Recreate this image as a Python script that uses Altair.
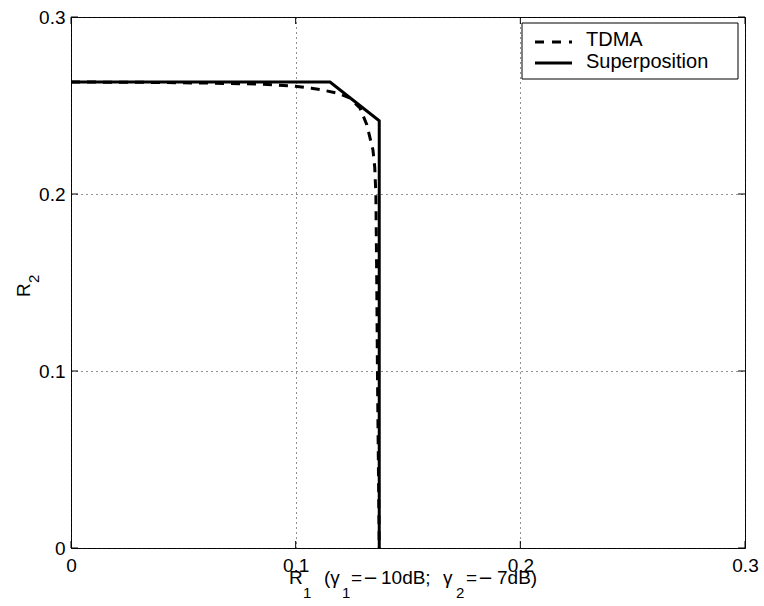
import altair as alt
import pandas as pd

# ---- data ----
sup_r1 = [0.0, 0.1153, 0.1372, 0.1372]
sup_r2 = [0.2633, 0.2633, 0.2414, 0.0]

tdma_r1 = [0.0, 0.030, 0.060, 0.084, 0.0985, 0.107, 0.1125, 0.119, 0.124, 0.1286,
           0.1317, 0.1344, 0.1352, 0.1357, 0.1361, 0.1364, 0.1368, 0.1372]
tdma_r2 = [0.2633, 0.2631, 0.2627, 0.2621, 0.2610, 0.2598, 0.2586, 0.2568, 0.2543, 0.2486,
           0.2390, 0.2249, 0.2150, 0.2000, 0.1500, 0.1000, 0.0500, 0.0]

x_ticks = [0, 0.1, 0.2, 0.3]
y_ticks = [0, 0.1, 0.2, 0.3]
legend_labels = ["TDMA", "Superposition"]

FONT = "Liberation Sans"
W, H = 674, 531
OX, OY = 71, 17

sup = pd.DataFrame({"r1": sup_r1, "r2": sup_r2, "o": list(range(len(sup_r1)))})
tdma = pd.DataFrame({"r1": tdma_r1, "r2": tdma_r2, "o": list(range(len(tdma_r1)))})

xs = alt.Scale(domain=[0, 0.3], nice=False, zero=False)
ys = alt.Scale(domain=[0, 0.3], nice=False, zero=False)

xaxis = alt.Axis(values=x_ticks, format="~g", title=None, grid=True, gridDash=[1, 4],
                 gridColor="#222", gridWidth=1, tickSize=0, labelPadding=8,
                 labelFont=FONT, labelFontSize=19, labelColor="black", domain=False,
                 labelFlush=False, labelOverlap=False)
yaxis = alt.Axis(values=y_ticks, format="~g", title=None, grid=True, gridDash=[1, 4],
                 gridColor="#222", gridWidth=1, tickSize=0, labelPadding=6,
                 labelFont=FONT, labelFontSize=19, labelColor="black", domain=False,
                 labelFlush=False, labelOverlap=False)

sup_line = alt.Chart(sup).mark_line(color="black", strokeWidth=3, clip=True).encode(
    x=alt.X("r1:Q", scale=xs, axis=xaxis),
    y=alt.Y("r2:Q", scale=ys, axis=yaxis),
    order="o:Q",
)
tdma_line = alt.Chart(tdma).mark_line(color="black", strokeWidth=3, strokeDash=[9, 7], clip=True).encode(
    x=alt.X("r1:Q", scale=xs),
    y=alt.Y("r2:Q", scale=ys),
    order="o:Q",
)

# inward tick marks (bottom/top, left/right)
xt = pd.DataFrame({"v": x_ticks})
yt = pd.DataFrame({"v": y_ticks})
TL = 7
xt_bot = alt.Chart(xt).mark_rule(color="black", strokeWidth=1).encode(
    x=alt.X("v:Q", scale=xs), y=alt.value(H), y2=alt.value(H - TL))
xt_top = alt.Chart(xt).mark_rule(color="black", strokeWidth=1).encode(
    x=alt.X("v:Q", scale=xs), y=alt.value(0), y2=alt.value(TL))
yt_left = alt.Chart(yt).mark_rule(color="black", strokeWidth=1).encode(
    y=alt.Y("v:Q", scale=ys), x=alt.value(0), x2=alt.value(TL))
yt_right = alt.Chart(yt).mark_rule(color="black", strokeWidth=1).encode(
    y=alt.Y("v:Q", scale=ys), x=alt.value(W), x2=alt.value(W - TL))

# legend box (plot-local pixel coordinates)
LX0, LX1, LY0, LY1 = 451, 667, 6, 62
one = pd.DataFrame({"a": [0]})
leg_box = alt.Chart(one).mark_rect(
    fill="white", stroke="black", strokeWidth=1).encode(
    x=alt.value(LX0), x2=alt.value(LX1), y=alt.value(LY0), y2=alt.value(LY1))
leg_dash = alt.Chart(one).mark_rule(
    color="black", strokeWidth=3, strokeDash=[9, 8]).encode(
    x=alt.value(464), x2=alt.value(501), y=alt.value(25))
leg_solid = alt.Chart(one).mark_rule(
    color="black", strokeWidth=3).encode(
    x=alt.value(464), x2=alt.value(501), y=alt.value(46))
leg_text = alt.Chart(pd.DataFrame({"t": legend_labels, "px": [515, 515], "py": [29, 51]})).mark_text(
    font=FONT, fontSize=20, align="left", baseline="alphabetic", color="black").encode(
    x=alt.X("px:Q", scale=None), y=alt.Y("py:Q", scale=None), text="t:N")

# x title pieces (absolute pixel positions, converted to plot-local)
x_main = pd.DataFrame({
    "t":  ["R", "(γ", "=", "10dB;", "γ", "=", "7dB)"],
    "px": [289, 324, 351, 381, 443, 466, 497],
    "py": [584] * 7,
})
x_minus = pd.DataFrame({"t": ["−", "−"], "px": [363, 478], "py": [584, 584]})
x_sub = pd.DataFrame({
    "t":  ["1", "1", "2"],
    "px": [303, 342, 456],
    "py": [598, 598, 598],
})
for d in (x_main, x_sub, x_minus):
    d["px"] = d["px"] - OX
    d["py"] = d["py"] - OY

x_title_main = alt.Chart(x_main).mark_text(
    font=FONT, fontSize=19, align="left", baseline="alphabetic", color="black").encode(
    x=alt.X("px:Q", scale=None), y=alt.Y("py:Q", scale=None), text="t:N")
x_title_minus = alt.Chart(x_minus).mark_text(
    font="DejaVu Sans", fontSize=18, align="left", baseline="alphabetic", color="black").encode(
    x=alt.X("px:Q", scale=None), y=alt.Y("py:Q", scale=None), text="t:N")
x_title_sub = alt.Chart(x_sub).mark_text(
    font=FONT, fontSize=15, align="left", baseline="alphabetic", color="black").encode(
    x=alt.X("px:Q", scale=None), y=alt.Y("py:Q", scale=None), text="t:N")

y_main = pd.DataFrame({"t": ["R"], "px": [30 - OX], "py": [297 - OY]})
y_sub = pd.DataFrame({"t": ["2"], "px": [39 - OX], "py": [283 - OY]})
y_title_main = alt.Chart(y_main).mark_text(
    font=FONT, fontSize=19, align="left", baseline="alphabetic", color="black", angle=270).encode(
    x=alt.X("px:Q", scale=None), y=alt.Y("py:Q", scale=None), text="t:N")
y_title_sub = alt.Chart(y_sub).mark_text(
    font=FONT, fontSize=15, align="left", baseline="alphabetic", color="black", angle=270).encode(
    x=alt.X("px:Q", scale=None), y=alt.Y("py:Q", scale=None), text="t:N")

chart = alt.layer(
    sup_line, tdma_line, xt_bot, xt_top, yt_left, yt_right,
    leg_box, leg_dash, leg_solid, leg_text,
    x_title_main, x_title_minus, x_title_sub, y_title_main, y_title_sub,
).properties(
    width=W, height=H,
    autosize=alt.AutoSizeParams(type="none"),
    padding={"left": OX, "top": OY, "right": 764 - OX - W, "bottom": 606 - OY - H},
    background="white",
).configure_view(
    stroke="black", strokeWidth=1,
)

chart.save("out.html", embed_options={"renderer": "svg", "actions": False})
